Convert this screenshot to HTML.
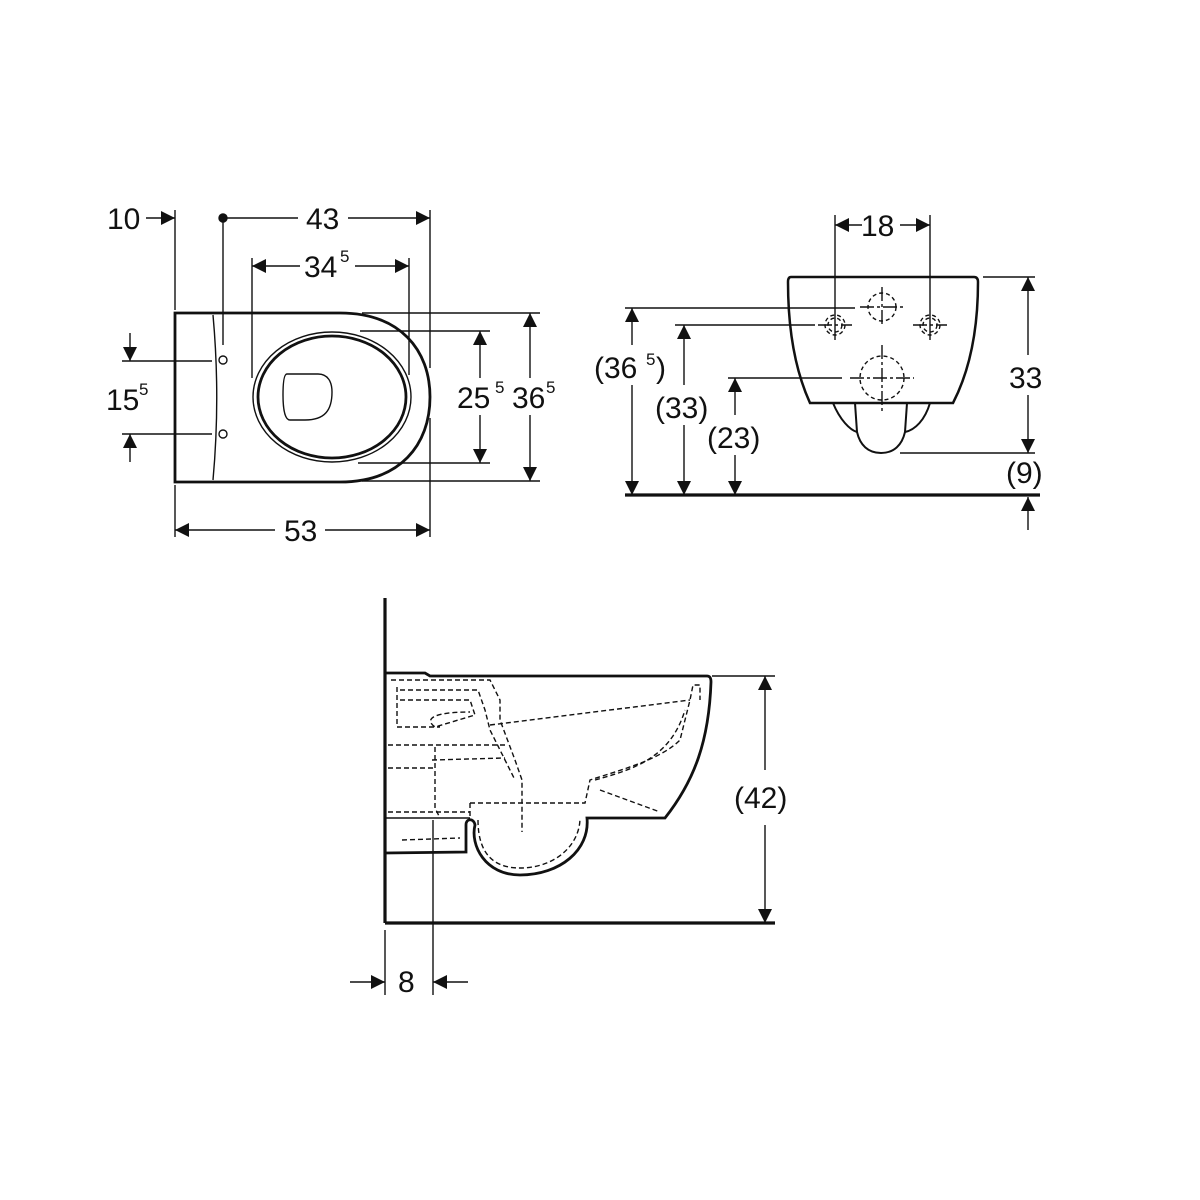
<!DOCTYPE html>
<html><head><meta charset="utf-8"><style>html,body{margin:0;padding:0;background:#fff}svg{display:block}text{font-family:"Liberation Sans",sans-serif;fill:#111}</style></head>
<body>
<svg width="1200" height="1200" viewBox="0 0 1200 1200" xmlns="http://www.w3.org/2000/svg">
<defs>
<marker id="a" viewBox="0 0 10 10" refX="10" refY="5" markerWidth="18" markerHeight="14" markerUnits="userSpaceOnUse" orient="auto"><path d="M0,0 L10,5 L0,10 z" fill="#111"/></marker>
</defs>
<g stroke="#111" fill="none" stroke-width="1.4">
<!-- TOP LEFT VIEW -->
<path d="M175,313 L340,313 C400,313 430,350 430,397 C430,445 400,482 340,482 L175,482 Z" stroke-width="2.8"/>
<path d="M213,315 C218,370 218,425 213,480"/>
<circle cx="223" cy="360" r="4"/><circle cx="223" cy="434" r="4"/>
<ellipse cx="332" cy="397" rx="79" ry="65"/>
<ellipse cx="332" cy="397" rx="74" ry="61" stroke-width="2.8"/>
<path d="M287,374 L318,374 C328,374 332,382 332,392 C332,410 325,420 305,420 L290,420 C284,420 283,405 283,395 C283,383 284,374 287,374 Z"/>
<line x1="175" y1="210" x2="175" y2="310"/>
<line x1="223" y1="218" x2="223" y2="345"/>
<circle cx="223" cy="218" r="4" fill="#111"/>
<line x1="146" y1="218" x2="175" y2="218" marker-end="url(#a)"/>
<line x1="223" y1="218" x2="298" y2="218"/>
<line x1="348" y1="218" x2="430" y2="218" marker-end="url(#a)"/>
<line x1="430" y1="210" x2="430" y2="368"/><line x1="430" y1="418" x2="430" y2="537"/>
<line x1="252" y1="258" x2="252" y2="378"/><line x1="409" y1="258" x2="409" y2="375"/>
<line x1="300" y1="266" x2="252" y2="266" marker-end="url(#a)"/>
<line x1="355" y1="266" x2="409" y2="266" marker-end="url(#a)"/>
<line x1="360" y1="331" x2="490" y2="331"/><line x1="358" y1="463" x2="490" y2="463"/>
<line x1="480" y1="378" x2="480" y2="331" marker-end="url(#a)"/>
<line x1="480" y1="415" x2="480" y2="463" marker-end="url(#a)"/>
<line x1="362" y1="313" x2="540" y2="313"/><line x1="362" y1="481" x2="540" y2="481"/>
<line x1="530" y1="378" x2="530" y2="313" marker-end="url(#a)"/>
<line x1="530" y1="415" x2="530" y2="481" marker-end="url(#a)"/>
<line x1="122" y1="361" x2="212" y2="361"/><line x1="122" y1="434" x2="212" y2="434"/>
<line x1="130" y1="333" x2="130" y2="361" marker-end="url(#a)"/>
<line x1="130" y1="462" x2="130" y2="434" marker-end="url(#a)"/>
<line x1="175" y1="485" x2="175" y2="537"/>
<line x1="275" y1="530" x2="175" y2="530" marker-end="url(#a)"/>
<line x1="325" y1="530" x2="430" y2="530" marker-end="url(#a)"/>

<!-- TOP RIGHT VIEW -->
<path d="M791,277 L974,277 C977,277 978,279 978,282 C978,330 970,370 953,403 L810,403 C795,370 788,330 788,282 C788,279 789,277 791,277 Z" stroke-width="2.5"/>
<path d="M833,403 C840,420 850,430 857,432 M930,403 C925,420 915,430 905,432" stroke-width="2"/>
<path d="M855,403 L857,432 C860,445 868,453 881,453 C894,453 902,445 905,432 L907,403" stroke-width="2"/>
<g stroke-dasharray="4,3">
<circle cx="882" cy="307" r="14"/><circle cx="835" cy="325" r="10"/><circle cx="930" cy="325" r="10"/><circle cx="882" cy="378" r="22"/>
<circle cx="835" cy="325" r="7"/><circle cx="930" cy="325" r="7"/>
</g>
<g stroke-dasharray="14,3,3,3">
<line x1="860" y1="307" x2="904" y2="307"/><line x1="882" y1="287" x2="882" y2="325"/>
<line x1="818" y1="325" x2="852" y2="325"/><line x1="913" y1="325" x2="947" y2="325"/>
<line x1="850" y1="378" x2="914" y2="378"/><line x1="882" y1="345" x2="882" y2="412"/>
</g>
<line x1="835" y1="215" x2="835" y2="340"/><line x1="930" y1="215" x2="930" y2="340"/>
<line x1="862" y1="225" x2="835" y2="225" marker-end="url(#a)"/>
<line x1="900" y1="225" x2="930" y2="225" marker-end="url(#a)"/>
<line x1="983" y1="277" x2="1035" y2="277"/><line x1="900" y1="453" x2="1035" y2="453"/>
<line x1="1028" y1="355" x2="1028" y2="277" marker-end="url(#a)"/>
<line x1="1028" y1="395" x2="1028" y2="453" marker-end="url(#a)"/>
<line x1="1028" y1="530" x2="1028" y2="497" marker-end="url(#a)"/>
<line x1="625" y1="495" x2="1040" y2="495" stroke-width="3.2"/>
<line x1="625" y1="308" x2="855" y2="308"/>
<line x1="632" y1="345" x2="632" y2="308" marker-end="url(#a)"/>
<line x1="632" y1="385" x2="632" y2="495" marker-end="url(#a)"/>
<line x1="675" y1="325" x2="815" y2="325"/>
<line x1="684" y1="385" x2="684" y2="325" marker-end="url(#a)"/>
<line x1="684" y1="425" x2="684" y2="495" marker-end="url(#a)"/>
<line x1="728" y1="378" x2="842" y2="378"/>
<line x1="735" y1="415" x2="735" y2="378" marker-end="url(#a)"/>
<line x1="735" y1="455" x2="735" y2="495" marker-end="url(#a)"/>

<!-- BOTTOM VIEW -->
<line x1="385" y1="598" x2="385" y2="923" stroke-width="3.2"/>
<line x1="385" y1="923" x2="775" y2="923" stroke-width="3.2"/>
<path d="M385,673 L425,673 L430,676 L707,676 C710,676 711,678 711,682 C709,740 695,780 665,818 L587,818 C590,850 560,875 520,875 C485,875 470,845 475,825 C474,818 466,818 466,825 L466,852 L385,853" stroke-width="2.8"/>
<line x1="385" y1="818" x2="470" y2="818"/>
<g stroke-dasharray="5,3">
<path d="M391,680 L490,680 L500,700 L500,720 L515,760 L522,780 L522,832"/>
<path d="M400,690 L478,690 L485,710 L490,730 L505,760 L515,780"/>
<path d="M397,687 L397,727 L440,727 M400,700 L470,700 L475,715 L435,727 C425,720 430,712 470,712"/>
<path d="M490,725 L690,700 M505,745 L435,745 L435,808 L440,818"/>
<path d="M388,745 L435,745 M388,768 L434,768 M432,760 L505,758"/>
<path d="M470,803 L585,803 L590,780 C620,770 660,760 680,740 L690,700 L693,685 L700,685 L700,700"/>
<path d="M600,790 L660,812 M595,780 C630,770 670,760 685,710"/>
<path d="M388,812 L470,812 M470,803 L470,818 M402,840 L460,838"/>
<path d="M478,820 C478,860 500,868 520,868 C555,868 580,845 580,818"/>
</g>
<line x1="712" y1="676" x2="775" y2="676"/>
<line x1="765" y1="770" x2="765" y2="676" marker-end="url(#a)"/>
<line x1="765" y1="825" x2="765" y2="923" marker-end="url(#a)"/>
<line x1="385" y1="930" x2="385" y2="995"/><line x1="433" y1="820" x2="433" y2="995"/>
<line x1="350" y1="982" x2="385" y2="982" marker-end="url(#a)"/>
<line x1="468" y1="982" x2="433" y2="982" marker-end="url(#a)"/>
</g>
<g font-size="30">
<text x="107" y="229">10</text>
<text x="306" y="229">43</text>
<text x="304" y="277">34</text><text x="340" y="262" font-size="17">5</text>
<text x="457" y="408">25</text><text x="495" y="393" font-size="17">5</text>
<text x="512" y="408">36</text><text x="546" y="393" font-size="17">5</text>
<text x="106" y="410">15</text><text x="139" y="395" font-size="17">5</text>
<text x="284" y="541">53</text>
<text x="861" y="236">18</text>
<text x="1009" y="388">33</text>
<text x="1006" y="483">(9)</text>
<text x="594" y="378">(36</text><text x="646" y="365" font-size="17">5</text><text x="656" y="378">)</text>
<text x="655" y="418">(33)</text>
<text x="707" y="448">(23)</text>
<text x="734" y="808">(42)</text>
<text x="398" y="992">8</text>
</g>
</svg>
</body></html>
